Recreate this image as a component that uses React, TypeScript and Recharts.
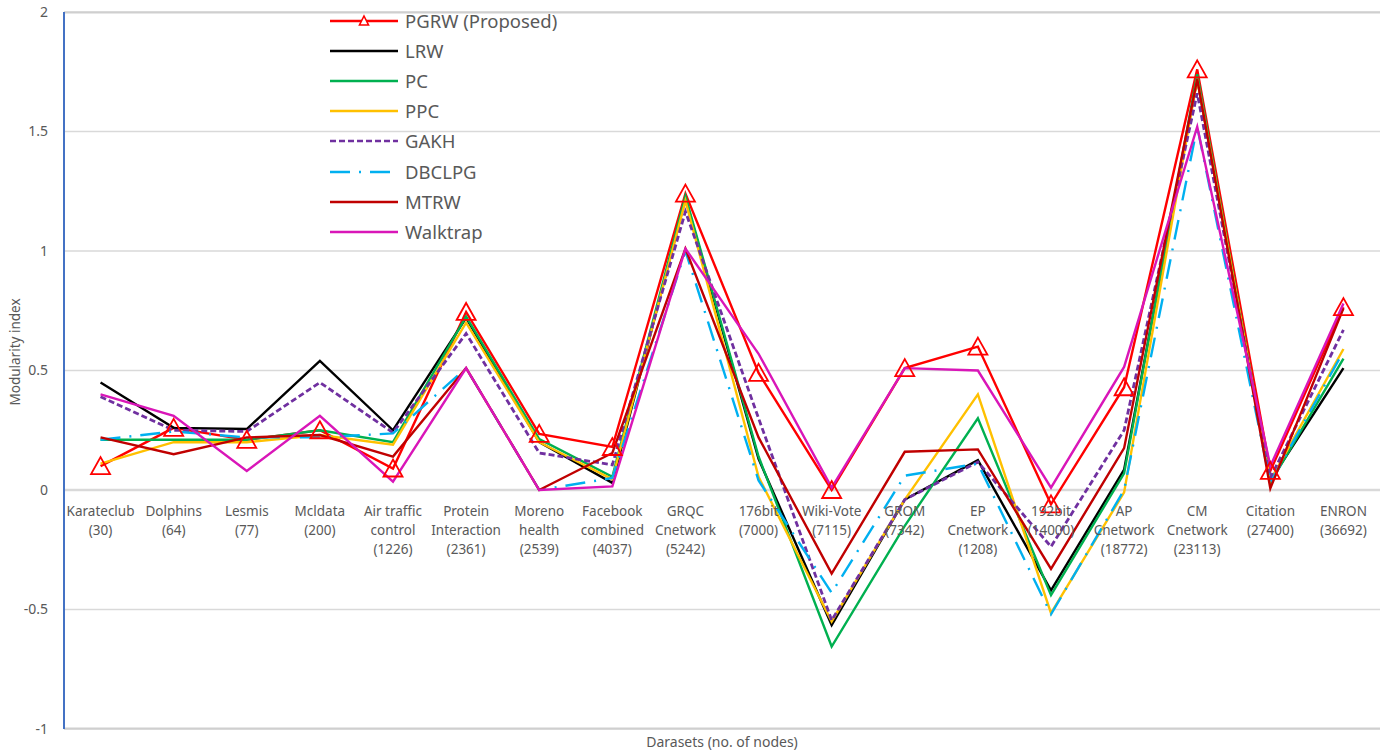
import React from 'react';
import { LineChart, Line, XAxis, YAxis, CartesianGrid, ReferenceLine, Legend } from 'recharts';

const categories = [
  ['Karateclub', '(30)'],
  ['Dolphins', '(64)'],
  ['Lesmis', '(77)'],
  ['Mcldata', '(200)'],
  ['Air traffic', 'control', '(1226)'],
  ['Protein', 'Interaction', '(2361)'],
  ['Moreno', 'health', '(2539)'],
  ['Facebook', 'combined', '(4037)'],
  ['GRQC', 'Cnetwork', '(5242)'],
  ['176bit', '(7000)'],
  ['Wiki-Vote', '(7115)'],
  ['GROM', '(7342)'],
  ['EP', 'Cnetwork', '(1208)'],
  ['192bit', '(14000)'],
  ['AP', 'Cnetwork', '(18772)'],
  ['CM', 'Cnetwork', '(23113)'],
  ['Citation', '(27400)'],
  ['ENRON', '(36692)'],
];

const pgrw = [0.10, 0.26, 0.21, 0.25, 0.09, 0.745, 0.235, 0.18, 1.24, 0.49, 0.0, 0.51, 0.60, -0.06, 0.43, 1.76, 0.08, 0.765];
const lrw = [0.45, 0.26, 0.255, 0.54, 0.25, 0.72, 0.20, 0.03, 1.22, 0.13, -0.565, -0.04, 0.125, -0.42, 0.085, 1.72, 0.04, 0.51];
const pc = [0.21, 0.21, 0.21, 0.25, 0.20, 0.725, 0.213, 0.055, 1.23, 0.14, -0.655, -0.15, 0.30, -0.44, 0.07, 1.74, 0.03, 0.55];
const ppc = [0.11, 0.20, 0.20, 0.23, 0.19, 0.70, 0.20, 0.045, 1.21, 0.055, -0.55, -0.04, 0.40, -0.515, -0.01, 1.72, 0.04, 0.59];
const gakh = [0.39, 0.25, 0.245, 0.45, 0.24, 0.655, 0.155, 0.105, 1.165, 0.30, -0.545, -0.04, 0.117, -0.237, 0.25, 1.66, 0.05, 0.67];
const dbclpg = [0.21, 0.245, 0.22, 0.22, 0.237, 0.51, 0.0, 0.05, 1.0, 0.04, -0.43, 0.06, 0.11, -0.52, 0.0, 1.52, 0.03, 0.58];
const mtrw = [0.22, 0.15, 0.22, 0.23, 0.14, 0.51, 0.0, 0.155, 1.01, 0.22, -0.35, 0.16, 0.17, -0.33, 0.175, 1.72, 0.007, 0.76];
const walktrap = [0.40, 0.31, 0.08, 0.31, 0.035, 0.51, 0.0, 0.015, 1.01, 0.57, 0.01, 0.51, 0.50, 0.01, 0.515, 1.52, 0.10, 0.78];

const yTicks = [-1, -0.5, 0, 0.5, 1, 1.5, 2];

const series = [
  { key: 'PGRW (Proposed)', values: pgrw, color: '#FF0000', dash: undefined, marker: true },
  { key: 'LRW', values: lrw, color: '#000000', dash: undefined, marker: false },
  { key: 'PC', values: pc, color: '#00B050', dash: undefined, marker: false },
  { key: 'PPC', values: ppc, color: '#FFC000', dash: undefined, marker: false },
  { key: 'GAKH', values: gakh, color: '#7030A0', dash: '6 3', marker: false },
  { key: 'DBCLPG', values: dbclpg, color: '#00B0F0', dash: '20 9 2 9', marker: false },
  { key: 'MTRW', values: mtrw, color: '#C00000', dash: undefined, marker: false },
  { key: 'Walktrap', values: walktrap, color: '#D916B8', dash: undefined, marker: false },
];

const data = categories.map((c, i) => {
  const row: any = { idx: i };
  series.forEach(s => { row[s.key] = s.values[i]; });
  return row;
});

const W = 1390;
const H = 753;
const TOP = 12;
const LEFT = 64;
const RIGHT = 10;
const XAXIS_H = 24;
const Y_MIN = -1;
const Y_MAX = 2;
const plotH = H - TOP - XAXIS_H;
const zeroY = TOP + plotH * (Y_MAX / (Y_MAX - Y_MIN));
const FONT = "'Noto Sans', sans-serif";
const TEXT = '#595959';
const GRID = '#D9D9D9';

function CategoryTick(props: any) {
  const { x, payload } = props;
  const lines = categories[payload.value] || [];
  return (
    <text x={x} y={zeroY + 26} textAnchor="middle" fill={TEXT} fontSize={13.5} fontFamily={FONT}>
      {lines.map((l, k) => (
        <tspan key={k} x={x} dy={k === 0 ? 0 : 19}>{l}</tspan>
      ))}
    </text>
  );
}

function triangleDot(props: any) {
  const { cx, cy, index } = props;
  if (cx == null || cy == null) return <g key={index} />;
  return (
    <path
      key={index}
      d={`M${cx},${cy - 9} L${cx + 9.5},${cy + 8} L${cx - 9.5},${cy + 8} Z`}
      fill="none"
      stroke="#FF0000"
      strokeWidth={1.8}
    />
  );
}

function LegendBox() {
  return (
    <div style={{ fontFamily: FONT, fontSize: 18.5, color: TEXT }}>
      {series.map(s => (
        <div key={s.key} style={{ display: 'flex', alignItems: 'center', height: 30.1 }}>
          <svg width={75} height={20} style={{ display: 'block' }}>
            <line x1={0} y1={10} x2={68} y2={10} stroke={s.color} strokeWidth={2.6} strokeDasharray={s.dash} />
            {s.marker && (
              <path d="M34,5 L38.5,14 L29.5,14 Z" fill="white" stroke="#FF0000" strokeWidth={1.6} />
            )}
          </svg>
          <span style={{ lineHeight: '20px', whiteSpace: 'nowrap' }}>{s.key}</span>
        </div>
      ))}
    </div>
  );
}

export default function App() {
  return (
    <div style={{ position: 'absolute', left: 0, top: 0, width: W, height: H, background: '#fff' }}>
      <LineChart width={W} height={H} data={data} margin={{ top: TOP, right: RIGHT, bottom: 0, left: 0 }}>
        <CartesianGrid vertical={false} stroke={GRID} strokeWidth={1.5} />
        <XAxis
          type="number"
          dataKey="idx"
          domain={[-0.5, categories.length - 0.5]}
          ticks={categories.map((_, i) => i)}
          interval={0}
          axisLine={false}
          tickLine={false}
          height={XAXIS_H}
          tick={<CategoryTick />}
        />
        <YAxis
          domain={[Y_MIN, Y_MAX]}
          ticks={yTicks}
          width={LEFT}
          axisLine={{ stroke: '#4472C4', strokeWidth: 2 }}
          tickLine={false}
          tickSize={0}
          tickMargin={16}
          tick={{ fill: TEXT, fontSize: 14, fontFamily: FONT }}
        />
        <ReferenceLine y={Y_MAX - 0.002} stroke="#CFCFCF" strokeWidth={2} ifOverflow="extendDomain" />
        <ReferenceLine y={Y_MIN + 0.002} stroke="#CFCFCF" strokeWidth={2} ifOverflow="extendDomain" />
        <ReferenceLine y={0} stroke={GRID} strokeWidth={2.5} />
        <Legend
          layout="vertical"
          align="center"
          verticalAlign="middle"
          content={() => <LegendBox />}
          wrapperStyle={{ left: 330, top: 6, width: 280, height: 245 }}
        />
        {series.map(s => (
          <Line
            key={s.key}
            type="linear"
            dataKey={s.key}
            stroke={s.color}
            strokeWidth={s.key === 'GAKH' ? 2.8 : 2.4}
            strokeDasharray={s.dash}
            dot={s.marker ? triangleDot : false}
            activeDot={false}
            isAnimationActive={false}
          />
        ))}
      </LineChart>
      <div
        style={{
          position: 'absolute', left: 15, top: 352, transform: 'translate(-50%, -50%) rotate(-90deg)',
          fontFamily: FONT, fontSize: 13.5, color: TEXT, whiteSpace: 'nowrap',
        }}
      >
        Modularity index
      </div>
      <div
        style={{
          position: 'absolute', left: 722, top: 741, transform: 'translate(-50%, -50%)',
          fontFamily: FONT, fontSize: 14, color: TEXT, whiteSpace: 'nowrap',
        }}
      >
        Darasets (no. of nodes)
      </div>
    </div>
  );
}
